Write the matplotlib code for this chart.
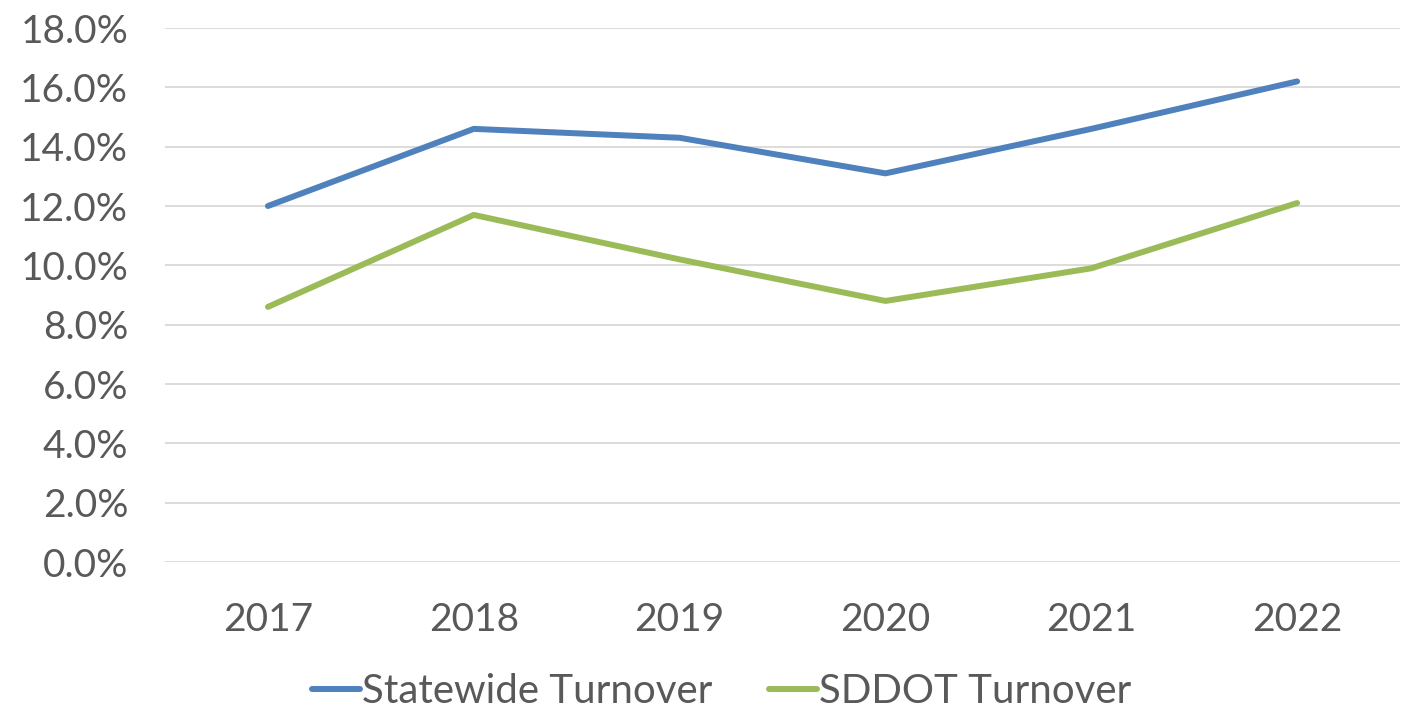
import matplotlib
matplotlib.use("Agg")
import matplotlib.pyplot as plt
from matplotlib.ticker import FuncFormatter

years = ["2017", "2018", "2019", "2020", "2021", "2022"]
statewide = [12.0, 14.6, 14.3, 13.1, 14.6, 16.2]
sddot = [8.6, 11.7, 10.2, 8.8, 9.9, 12.1]
series_names = ["Statewide Turnover", "SDDOT Turnover"]
colors = ["#4F81BD", "#9BBB59"]

plt.rcParams['font.family'] = ['Lato', 'DejaVu Sans']
fig = plt.figure(figsize=(14.01, 7.09), dpi=100)
ax = fig.add_axes([0.1178, 0.2073, 0.8815, 0.7532])

x = list(range(len(years)))
for vals, name, c in zip([statewide, sddot], series_names, colors):
    ax.plot(x, vals, color=c, lw=4.3, label=name, solid_capstyle='round', solid_joinstyle='round', zorder=3)

ax.set_xlim(-0.5, len(years) - 0.5)
ax.set_ylim(0, 18)
ax.set_yticks([i * 2 for i in range(10)])
ax.yaxis.set_major_formatter(FuncFormatter(lambda v, p: f"{v:.1f}%"))
ax.set_xticks(x)
ax.set_xticklabels(years)
ax.grid(axis='y', color='#D9D9D9', lw=1.3)
ax.set_axisbelow(True)
for s in ax.spines.values():
    s.set_visible(False)
ax.tick_params(axis='both', length=0, labelsize=28, labelcolor='#595959')
ax.tick_params(axis='y', pad=26.5)
ax.tick_params(axis='x', pad=29)

leg = fig.legend(loc='lower center', bbox_to_anchor=(0.515, -0.052), ncol=2, frameon=False,
                 fontsize=29, handlelength=1.2, columnspacing=1.4, handletextpad=0.05)
for t in leg.get_texts():
    t.set_color('#595959')

fig.savefig("out.png", dpi=100)
